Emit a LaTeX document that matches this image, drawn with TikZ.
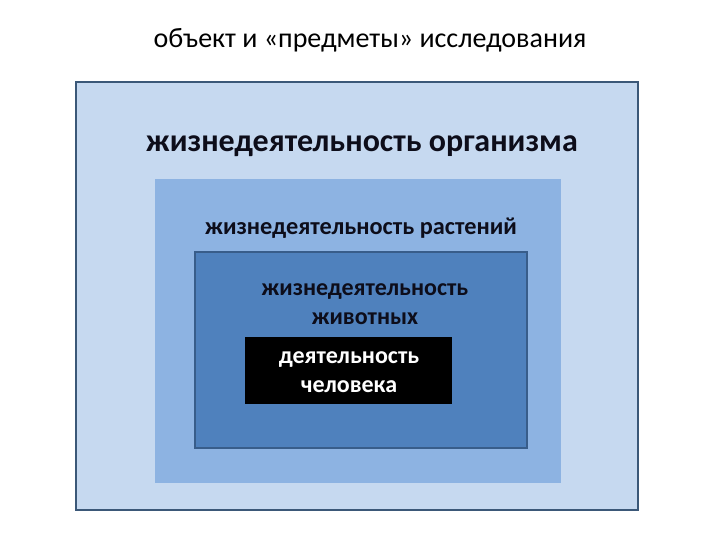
\documentclass[tikz,border=0pt]{standalone}
\usepackage{fontspec}
\setmainfont{Carlito}
\definecolor{bgA}{HTML}{C6D9F0}
\definecolor{bgB}{HTML}{8DB3E2}
\definecolor{bgC}{HTML}{4F81BD}
\definecolor{lnA}{HTML}{3B5878}
\definecolor{lnC}{HTML}{385D8A}
\definecolor{txt}{HTML}{0D0D1A}
\begin{document}
\begin{tikzpicture}[x=1pt,y=-1pt,
  lbl/.style={inner sep=0pt,align=center,font=\bfseries,text=txt}]
\useasboundingbox (0,0) rectangle (720,540);
\fill[white] (0,0) rectangle (720,540);
\draw[fill=bgA,draw=lnA,line width=2pt] (76,82) rectangle (638,510);
\fill[bgB] (155,179) rectangle (561,483);
\draw[fill=bgC,draw=lnC,line width=1.5pt] (195,252) rectangle (527,448);
\fill[black] (245,337) rectangle (452,404);
\node[inner sep=0pt,font=\fontsize{28}{32}\selectfont] (title) at (370,40) {объект и «предметы» исследования};
\node[lbl,font=\bfseries\fontsize{32}{36}\selectfont] (org) at (362,146) {жизнедеятельность организма};
\node[lbl,font=\bfseries\fontsize{24.3}{28}\selectfont] (plant) at (361,228) {жизнедеятельность растений};
\node[lbl,font=\bfseries\fontsize{24}{29}\selectfont] (anim) at (365,304) {жизнедеятельность\\животных};
\node[lbl,text=white,font=\bfseries\fontsize{24}{29}\selectfont] (hum) at (349,372) {деятельность\\человека};
\end{tikzpicture}
\end{document}
